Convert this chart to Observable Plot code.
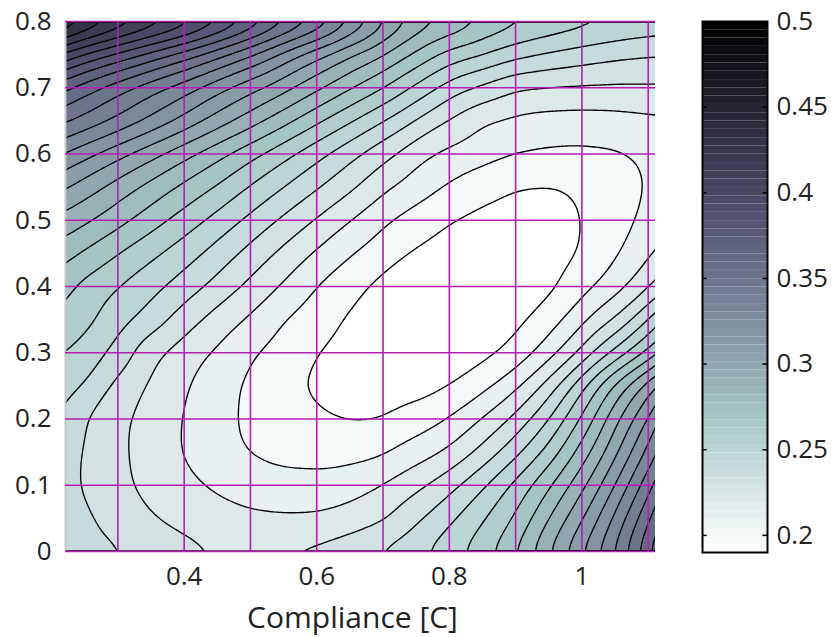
<!DOCTYPE html>
<html><head><meta charset="utf-8">
<script src="https://cdn.jsdelivr.net/npm/d3@7"></script>
<script src="https://cdn.jsdelivr.net/npm/@observablehq/plot@0.6"></script>
<style>
body{margin:0;background:#fff;}
#wrap{position:relative;width:834px;height:637px;font-family:"Open Sans",sans-serif;}
#main{position:absolute;left:0;top:0;}
#bar{position:absolute;left:690px;top:0;}
</style></head><body><div id="wrap"><div id="main"></div><div id="bar"></div></div>
<script>
// sample grid (x = compliance, y = vertical axis)
const xs = [0.2,0.25,0.3,0.35,0.4,0.45,0.5,0.55,0.6,0.65,0.7,0.75,0.8,0.85,0.9,0.95,1.0,1.05,1.1,1.15];
const ys = [0,0.05,0.1,0.15,0.2,0.25,0.3,0.35,0.4,0.45,0.5,0.55,0.6,0.65,0.7,0.75,0.8];
const values = [
  [0.247,0.244,0.241,0.2374,0.2337,0.2298,0.2302,0.2306,0.233,0.2373,0.2422,0.248,0.256,0.266,0.28,0.30,0.32,0.341,0.368,0.40],
  [0.246,0.2417,0.2361,0.2305,0.2265,0.2235,0.2215,0.221,0.2212,0.2235,0.2285,0.238,0.248,0.259,0.271,0.29,0.309,0.332,0.358,0.388],
  [0.245,0.239,0.2324,0.2269,0.222,0.2185,0.2155,0.2132,0.2135,0.216,0.2203,0.2275,0.2365,0.2485,0.263,0.2785,0.297,0.32,0.346,0.375],
  [0.247,0.239,0.232,0.2254,0.2192,0.214,0.209,0.207,0.206,0.2062,0.2085,0.215,0.2215,0.233,0.247,0.2635,0.284,0.3075,0.3325,0.36],
  [0.253,0.24,0.2324,0.2257,0.2195,0.2127,0.208,0.2045,0.2013,0.1993,0.1997,0.204,0.2105,0.2205,0.2325,0.2495,0.2715,0.297,0.3205,0.35],
  [0.257,0.25,0.2365,0.2281,0.221,0.214,0.2079,0.2025,0.198,0.196,0.195,0.196,0.1995,0.2067,0.2175,0.234,0.2575,0.2825,0.305,0.33],
  [0.262,0.2565,0.2463,0.2324,0.2248,0.2182,0.211,0.2053,0.1998,0.1965,0.1945,0.1935,0.194,0.197,0.203,0.2155,0.232,0.252,0.272,0.295],
  [0.269,0.263,0.2543,0.2456,0.2344,0.2257,0.2183,0.21,0.204,0.1985,0.195,0.193,0.1925,0.1935,0.1975,0.205,0.217,0.23,0.25,0.272],
  [0.276,0.2666,0.26,0.253,0.2455,0.2365,0.2275,0.2185,0.2097,0.2025,0.197,0.194,0.1922,0.192,0.1935,0.1975,0.206,0.2155,0.228,0.243],
  [0.287,0.2783,0.27,0.2623,0.2546,0.246,0.2364,0.2273,0.2185,0.2107,0.204,0.1985,0.195,0.193,0.193,0.195,0.2003,0.2085,0.218,0.228],
  [0.299,0.292,0.2835,0.2745,0.2655,0.2565,0.2475,0.238,0.229,0.22,0.2115,0.2055,0.2002,0.197,0.1955,0.196,0.1997,0.206,0.2125,0.219],
  [0.315,0.305,0.2955,0.2865,0.2775,0.269,0.259,0.25,0.241,0.232,0.222,0.215,0.2085,0.2035,0.1998,0.199,0.201,0.206,0.2105,0.214],
  [0.333,0.323,0.313,0.303,0.293,0.283,0.273,0.263,0.253,0.243,0.233,0.223,0.2175,0.2137,0.21,0.2085,0.208,0.2085,0.211,0.214],
  [0.355,0.347,0.338,0.328,0.317,0.3055,0.2945,0.2835,0.272,0.261,0.2502,0.239,0.2285,0.2203,0.2175,0.216,0.2155,0.216,0.2175,0.219],
  [0.376,0.364,0.353,0.343,0.334,0.323,0.313,0.303,0.292,0.281,0.2703,0.2575,0.245,0.2375,0.2302,0.229,0.2285,0.2282,0.2285,0.229],
  [0.413,0.398,0.387,0.376,0.365,0.353,0.3403,0.326,0.3125,0.3003,0.2903,0.278,0.266,0.2603,0.253,0.2485,0.245,0.242,0.2403,0.2395],
  [0.46,0.445,0.432,0.421,0.4103,0.397,0.382,0.366,0.352,0.333,0.314,0.298,0.2903,0.281,0.274,0.269,0.265,0.2615,0.2585,0.256]
];
const levels = [0.20,0.21,0.22,0.23,0.24,0.25,0.26,0.27,0.28,0.29,0.30,0.31,0.32,0.33,0.34,0.35,0.36,0.37,0.38,0.39,0.40,0.41,0.42,0.43,0.44,0.45,0.46,0.47,0.48,0.49];
const xTicks = [0.4, 0.6, 0.8, 1];
const yTicks = [0, 0.1, 0.2, 0.3, 0.4, 0.5, 0.6, 0.7, 0.8];
const gridX = [0.3, 0.4, 0.5, 0.6, 0.7, 0.8, 0.9, 1.0, 1.1];
const gridY = [0, 0.1, 0.2, 0.3, 0.4, 0.5, 0.6, 0.7, 0.8];
const barTicks = [0.2, 0.25, 0.3, 0.35, 0.4, 0.45, 0.5];
const xLabel = "Compliance [C]";

const samples = ys.flatMap((y, j) => xs.map((x, i) => ({x, y, value: values[j][i]})));
const colorScale = {type: "linear", domain: [0.19, 0.2675, 0.38375, 0.5],
  range: ["#ffffff", "rgb(167,199,199)", "rgb(84,84,116)", "#000000"], interpolate: "rgb"};
const fmt = d3.format("~g");
const magenta = "#b41eb4";
const contourOpts = {x: "x", y: "y", thresholds: levels, interpolate: "barycentric", blur: 5,
  x1: 0.2, x2: 1.15, y1: 0, y2: 0.8, clip: true};

const main = Plot.plot({
  width: 690, height: 637, marginLeft: 65, marginRight: 35, marginTop: 21, marginBottom: 86,
  x: {domain: [0.221, 1.111]},
  y: {domain: [0, 0.8]},
  color: colorScale,
  style: {fontFamily: "Open Sans", fontSize: "26px", color: "#222", background: "transparent"},
  marks: [
    Plot.contour(samples, {...contourOpts, fill: "value", stroke: "none"}),
    Plot.contour(samples, {...contourOpts, value: "value", fill: "none", stroke: "black", strokeWidth: 1.35}),
    Plot.ruleX([0.221], {stroke: "#c8c8c8", strokeWidth: 2}),
    Plot.ruleX(gridX, {stroke: magenta, strokeWidth: 1.6}),
    Plot.ruleY(gridY, {stroke: magenta, strokeWidth: 1.6}),
    Plot.axisX(xTicks, {tickSize: 0, tickPadding: 15, tickFormat: fmt, fontSize: 26, label: null}),
    Plot.axisY(yTicks, {tickSize: 0, tickPadding: 14, tickFormat: fmt, fontSize: 26, label: null}),
    Plot.text([xLabel], {frameAnchor: "bottom", dy: 76, dx: -8, fontSize: 30, fill: "#222"})
  ]
});
document.getElementById("main").appendChild(main);

const nSteps = 64;
const steps = d3.range(nSteps).map(i => ({
  y1: 0.19 + i * (0.31 / nSteps), y2: 0.19 + (i + 1) * (0.31 / nSteps)
}));
const bar = Plot.plot({
  width: 144, height: 637, marginLeft: 12, marginRight: 67, marginTop: 21, marginBottom: 85,
  x: {domain: [0, 1], axis: null},
  y: {domain: [0.19, 0.5]},
  color: colorScale,
  style: {fontFamily: "Open Sans", fontSize: "26px", color: "#222", background: "transparent"},
  marks: [
    Plot.rect(steps, {x1: 0, x2: 1, y1: "y1", y2: "y2", fill: d => (d.y1 + d.y2) / 2}),
    Plot.ruleY(barTicks.slice(0, -1), {x1: 0, x2: 0.07, stroke: "black", strokeWidth: 1.5}),
    Plot.ruleY(barTicks.slice(0, -1), {x1: 0.93, x2: 1, stroke: "black", strokeWidth: 1.5}),
    Plot.frame({stroke: "black", strokeWidth: 2}),
    Plot.axisY(barTicks, {anchor: "right", tickSize: 0, tickPadding: 9, tickFormat: fmt, fontSize: 26, label: null})
  ]
});
document.getElementById("bar").appendChild(bar);
</script></body></html>
